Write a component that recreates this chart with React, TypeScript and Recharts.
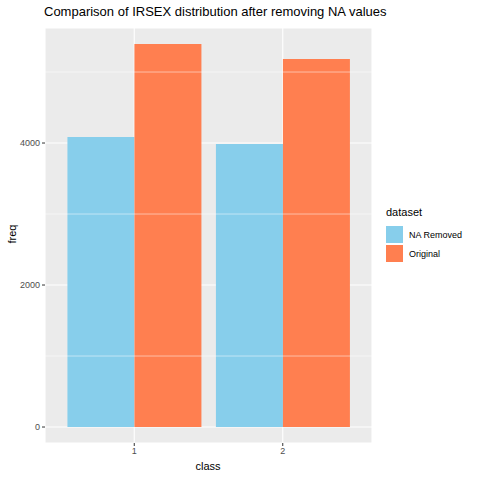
import React from "react";
import { BarChart, Bar, XAxis, YAxis, CartesianGrid, ReferenceLine } from "recharts";

const classes = ["1", "2"];
const naRemoved = [4085, 3986];
const original = [5394, 5183];
const yTicks = [0, 2000, 4000];
const minorTicks = [1000, 3000, 5000];

const data = classes.map((c, i) => ({ class: c, na: naRemoved[i], orig: original[i] }));
const font = "'Liberation Sans', Arial, sans-serif";

export default function App() {
  return (
    <div style={{ position: "absolute", left: 0, top: 0, width: 480, height: 480, background: "#fff", fontFamily: font }}>
      <BarChart width={480} height={480} data={data} margin={{ top: 28, right: 108, bottom: 0, left: 0 }} barGap={0} barCategoryGap="5%">
        <CartesianGrid fill="#EBEBEB" stroke="#fff" strokeWidth={1.1} />
        {minorTicks.map((t) => (
          <ReferenceLine key={t} y={t} stroke="#fff" strokeWidth={0.5} />
        ))}
        <XAxis dataKey="class" padding={{ left: 15, right: 15 }} height={37} axisLine={false}
          tickLine={{ stroke: "#333" }} tickSize={3} tick={{ fill: "#4D4D4D", fontSize: 9, fontFamily: font }} />
        <YAxis width={45} domain={[-225, 5620]} ticks={yTicks} allowDataOverflow axisLine={false}
          tickLine={{ stroke: "#333" }} tickSize={3} tick={{ fill: "#4D4D4D", fontSize: 9, fontFamily: font }} />
        <Bar dataKey="na" fill="#87CEEB" isAnimationActive={false} />
        <Bar dataKey="orig" fill="#FF7F50" isAnimationActive={false} />
      </BarChart>
      <div style={{ position: "absolute", left: 44, top: 4, fontSize: 13, color: "#000" }}>
        Comparison of IRSEX distribution after removing NA values
      </div>
      <div style={{ position: "absolute", left: 190, top: 460, width: 36, textAlign: "center", fontSize: 11 }}>class</div>
      <div style={{ position: "absolute", left: -8, top: 228, width: 40, textAlign: "center", fontSize: 11, transform: "rotate(-90deg)" }}>freq</div>
      <div style={{ position: "absolute", left: 386, top: 206, fontSize: 11 }}>dataset</div>
      <div style={{ position: "absolute", left: 386, top: 226, display: "flex", alignItems: "center" }}>
        <div style={{ width: 17, height: 17, background: "#87CEEB" }} />
        <span style={{ fontSize: 9, marginLeft: 6 }}>NA Removed</span>
      </div>
      <div style={{ position: "absolute", left: 386, top: 245, display: "flex", alignItems: "center" }}>
        <div style={{ width: 17, height: 17, background: "#FF7F50" }} />
        <span style={{ fontSize: 9, marginLeft: 6 }}>Original</span>
      </div>
    </div>
  );
}
